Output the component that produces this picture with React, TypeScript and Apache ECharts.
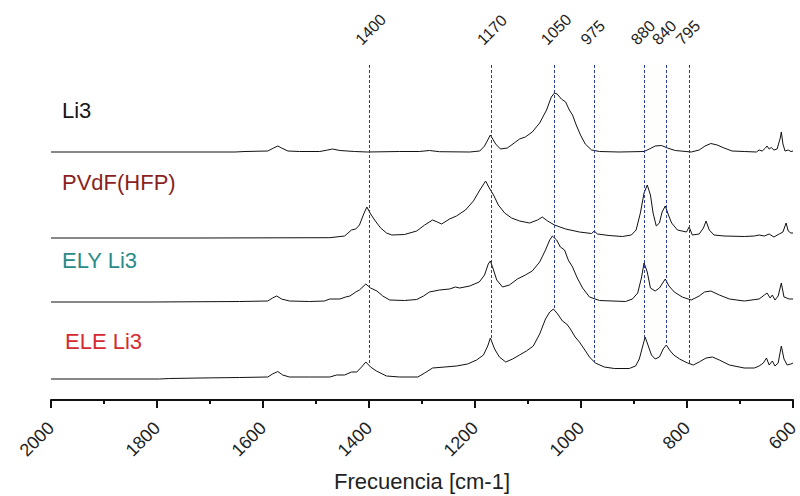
import React, { useEffect, useRef } from "react";
import * as echarts from "echarts";

// Wavenumber axis (cm-1) and annotated band positions
const tickStep = 200;
const xMin = 600;
const xMax = 2000;
const bandPositions = [1400, 1170, 1050, 975, 880, 840, 795];

const seriesNames = ["Li3", "PVdF(HFP)", "ELY Li3", "ELE Li3"];
const labelColors = ["#151515", "#8a1f22", "#2a8a88", "#d42a30"];
// vertical offsets used to stack the spectra (same arbitrary units as intensities)
const stackOffsets = [248, 162, 98, 21];

// Spectra: [wavenumber cm-1, intensity (a.u.)]
const li3: [number, number][] = [
  [2000, 0], [1900, 0], [1800, 0], [1653, 0], [1634, 0.5], [1591, 1], [1580, 4], [1572, 6],
  [1565, 4], [1553, 1], [1531, 0.5], [1493, 0.5], [1478, 2], [1469, 3], [1455, 1.5], [1427, 0.5],
  [1403, 0], [1342, 0.5], [1305, 0.5], [1286, 1.5], [1267, 0.3], [1210, 0], [1191, 1], [1182, 6],
  [1171, 17], [1161, 8], [1152, 3], [1139, 4], [1126, 9], [1116, 13], [1105, 15], [1092, 20],
  [1078, 29], [1065, 42], [1056, 55], [1050, 59], [1045, 58], [1037, 53], [1029, 50], [1022, 42],
  [1016, 37], [1009, 27], [1001, 17], [992, 8], [980, 2], [965, 0.5], [928, 0], [881, 0.5],
  [871, 3], [860, 6], [848, 6.5], [837, 4], [822, 1.5], [792, 0], [777, 2], [766, 6],
  [755, 8.5], [743, 7], [730, 4], [715, 1], [692, 0.5], [669, 0], [664, 2], [658, 1],
  [652, 4], [649, 6], [645, 3], [641, 4.5], [636, 2], [630, 3], [624, 14], [622, 20],
  [619, 8], [615, 1], [609, 2], [604, 0.5], [600, 1],
];

const pvdf: [number, number][] = [
  [2000, 0], [1719, 0], [1474, 0.3], [1446, 2], [1433, 8], [1425, 9], [1418, 13], [1410, 24],
  [1404, 31], [1397, 24], [1388, 17], [1378, 10], [1367, 5], [1357, 3], [1333, 3.5], [1310, 7],
  [1295, 13], [1280, 18], [1271, 16], [1263, 14], [1248, 19], [1235, 22], [1218, 28], [1203, 37],
  [1192, 47], [1180, 57], [1173, 50], [1165, 43], [1156, 33], [1144, 25], [1131, 20], [1116, 17],
  [1097, 15], [1082, 18], [1073, 21], [1063, 17], [1050, 13], [1029, 9], [1003, 6], [980, 4.5],
  [975, 7], [969, 4], [947, 2.5], [922, 1.5], [905, 3], [896, 8], [888, 25], [881, 45],
  [875, 53], [869, 43], [864, 25], [858, 12], [852, 15], [847, 26], [841, 32], [835, 23],
  [829, 15], [818, 8], [801, 6], [796, 11], [790, 3], [777, 4], [769, 10], [764, 17],
  [758, 8], [749, 3], [730, 2], [692, 1.5], [673, 2], [664, 3], [654, 2], [645, 4],
  [636, 1], [626, 4], [619, 6], [613, 15], [609, 7], [604, 5], [600, 5],
];

const elyLi3: [number, number][] = [
  [2000, 0], [1813, 0], [1644, 0.5], [1591, 1], [1582, 4], [1574, 6], [1565, 3], [1550, 1],
  [1512, 0.5], [1484, 1], [1474, 3], [1455, 3], [1444, 5], [1436, 6], [1425, 10], [1418, 12],
  [1406, 18], [1397, 14], [1385, 11], [1374, 6], [1361, 2], [1333, 1.5], [1310, 2.5], [1297, 6],
  [1286, 10], [1267, 12], [1248, 13], [1237, 15], [1229, 14], [1210, 16], [1192, 20], [1182, 27],
  [1175, 38], [1171, 41], [1165, 32], [1159, 22], [1148, 15], [1135, 17], [1120, 23], [1105, 27],
  [1092, 31], [1078, 40], [1067, 52], [1059, 62], [1054, 66], [1046, 62], [1039, 55], [1031, 52],
  [1024, 42], [1016, 35], [1007, 24], [997, 14], [984, 5], [965, 1.5], [916, 0.5], [903, 3],
  [893, 9], [886, 24], [881, 39], [875, 30], [869, 14], [860, 11], [852, 14], [841, 23],
  [834, 16], [824, 10], [809, 5], [792, 2], [777, 6], [767, 10], [755, 11], [739, 7],
  [720, 3], [692, 1], [664, 3], [654, 7], [649, 9], [643, 4], [639, 7], [634, 2],
  [628, 6], [622, 19], [617, 5], [607, 3], [600, 3],
];

const eleLi3: [number, number][] = [
  [2000, 0], [1795, 0], [1776, 0.5], [1719, 1], [1644, 1.5], [1591, 2], [1582, 5], [1572, 7.5],
  [1563, 4], [1550, 2], [1512, 2], [1474, 2], [1461, 4], [1446, 4], [1433, 7], [1423, 7],
  [1414, 12], [1406, 17], [1397, 12], [1386, 8], [1367, 3], [1342, 2], [1308, 2], [1295, 6],
  [1280, 11], [1257, 12], [1235, 13], [1214, 15], [1197, 19], [1184, 24], [1176, 33], [1171, 41],
  [1163, 30], [1154, 22], [1142, 17], [1129, 20], [1116, 24], [1103, 28], [1090, 33], [1078, 45],
  [1067, 60], [1059, 67], [1052, 70], [1044, 65], [1035, 58], [1027, 55], [1020, 50], [1011, 42],
  [1003, 37], [994, 30], [984, 22], [973, 16], [956, 12], [937, 10.5], [909, 10.5], [897, 13],
  [890, 20], [884, 32], [879, 42], [873, 33], [867, 24], [860, 20], [852, 22], [845, 30],
  [839, 34], [833, 29], [825, 24], [814, 20], [799, 16], [788, 14], [777, 17], [764, 21],
  [752, 22], [739, 19], [720, 14], [692, 11], [673, 11], [664, 13], [656, 16], [650, 21],
  [645, 14], [639, 18], [634, 13], [628, 16], [622, 33], [617, 20], [611, 14], [604, 15],
  [600, 16],
];

const spectra = [li3, pvdf, elyLi3, eleLi3];
const bandLineTop = 335;

const FONT = '"Liberation Sans", Arial, sans-serif';

function valueAt(data: [number, number][], v: number): number {
  for (let i = 0; i < data.length - 1; i++) {
    const [x0, y0] = data[i];
    const [x1, y1] = data[i + 1];
    if ((v <= x0 && v >= x1) || (v >= x0 && v <= x1)) {
      if (x0 === x1) return y0;
      return y0 + ((v - x0) / (x1 - x0)) * (y1 - y0);
    }
  }
  return 0;
}

export default function App() {
  const ref = useRef<HTMLDivElement | null>(null);

  useEffect(() => {
    if (!ref.current) return;
    const chart = echarts.init(ref.current, undefined, { renderer: "svg" });

    const series: any[] = spectra.map((data, i) => ({
      type: "line",
      name: seriesNames[i],
      xAxisIndex: 0,
      yAxisIndex: 0,
      showSymbol: false,
      symbol: "none",
      silent: true,
      lineStyle: { color: "#111", width: 1 },
      data: data.map(([v, h]) => [v, h + stackOffsets[i]]),
      z: 3,
    }));

    const eleOffset = stackOffsets[3];
    series[3].markLine = {
      silent: true,
      symbol: ["none", "none"],
      label: { show: false },
      lineStyle: { color: "#2c3a9c", type: [3, 2], width: 1 },
      data: bandPositions.map((v) => [
        { coord: [v, bandLineTop] },
        { coord: [v, valueAt(eleLi3, v) + eleOffset] },
      ]),
    };

    const labelCentersY = [110, 182, 260, 341];
    const labelLefts = [62, 62, 62, 65];

    chart.setOption({
      animation: false,
      backgroundColor: "#ffffff",
      grid: { left: 51, right: 7, top: 62, bottom: 96, containLabel: false, outerBoundsMode: "none" },
      xAxis: {
        type: "value",
        position: "bottom",
        min: xMin,
        max: xMax,
        interval: tickStep,
        inverse: true,
        axisLine: { show: true, onZero: false, lineStyle: { color: "#111", width: 2 } },
        axisTick: { show: true, length: 8, lineStyle: { color: "#111", width: 2 } },
        minorTick: { show: true, splitNumber: 2, length: 4, lineStyle: { color: "#111", width: 2 } },
        splitLine: { show: false },
        axisLabel: {
          rotate: 45,
          fontSize: 18,
          color: "#222",
          margin: 25,
          fontFamily: FONT,
          hideOverlap: false,
          formatter: (v: number) => String(v),
        },
        name: "Frecuencia [cm-1]",
        nameLocation: "middle",
        nameGap: 70,
        nameTextStyle: { fontSize: 22, color: "#222", fontFamily: FONT },
      },
      yAxis: { type: "value", min: 0, max: 338, show: false },
      series,
    });

    // Band annotations placed through the x-axis scale
    const gridTop = 62;
    const bandLabels = bandPositions.map((v, i) => {
      const px = chart.convertToPixel({ xAxisIndex: 0 }, v) as number;
      return {
        type: "text",
        id: "band" + i,
        x: px - 11,
        y: gridTop - 20,
        rotation: Math.PI / 4,
        silent: true,
        style: {
          text: String(v),
          fill: "#222",
          font: `16px ${FONT}`,
          align: "left",
          verticalAlign: "middle",
          textAlign: "left",
          textVerticalAlign: "middle",
        },
      };
    });

    const nameLabels = seriesNames.map((name, i) => ({
      type: "text",
      id: "name" + i,
      x: labelLefts[i],
      y: labelCentersY[i],
      silent: true,
      style: {
        text: name,
        fill: labelColors[i],
        font: `22px ${FONT}`,
        align: "left",
        verticalAlign: "middle",
        textAlign: "left",
        textVerticalAlign: "middle",
      },
    }));

    chart.setOption({ graphic: [...nameLabels, ...bandLabels] });

    return () => chart.dispose();
  }, []);

  return (
    <div
      ref={ref}
      style={{ position: "absolute", left: 0, top: 0, width: 800, height: 496, background: "#fff" }}
    />
  );
}
